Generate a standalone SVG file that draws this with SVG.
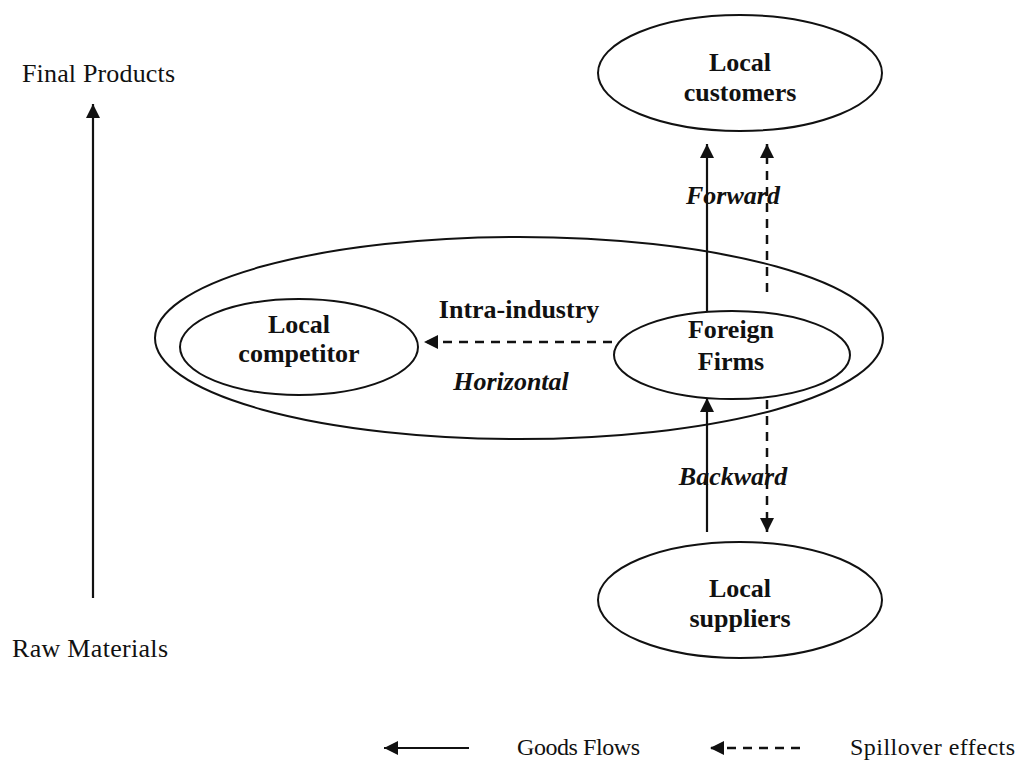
<svg xmlns="http://www.w3.org/2000/svg" width="1023" height="767" viewBox="0 0 1023 767">
<defs>
<style>
.el{fill:none;stroke:#111;stroke-width:2}
.b{font-family:"Liberation Serif",serif;font-weight:bold;font-size:26px;fill:#111;text-anchor:middle}
.bi{font-family:"Liberation Serif",serif;font-weight:bold;font-style:italic;font-size:26px;fill:#111;text-anchor:middle}
.n{font-family:"Liberation Serif",serif;font-size:26px;fill:#111}
.lg{font-family:"Liberation Serif",serif;font-size:24px;fill:#111}
.s{stroke:#111;stroke-width:2.2;fill:none}
.d{stroke:#111;stroke-width:2.5;fill:none;stroke-dasharray:9 7}
</style>
<marker id="ahb" viewBox="0 0 10 10" refX="10" refY="5" markerWidth="16" markerHeight="14" markerUnits="userSpaceOnUse" orient="auto">
<path d="M0,0 L10,5 L0,10 z" fill="#111"/>
</marker>
</defs>
<rect width="1023" height="767" fill="#fff"/>

<g id="outer-group"><ellipse class="el" cx="519" cy="338" rx="364" ry="101"/></g>

<g id="local-customers">
<ellipse class="el" cx="740" cy="73" rx="142" ry="58"/>
<text class="b" x="740" y="71">Local</text>
<text class="b" x="740" y="101">customers</text>
</g>
<g id="local-competitor">
<ellipse class="el" cx="299" cy="347" rx="119" ry="48"/>
<text class="b" x="299" y="333">Local</text>
<text class="b" x="299" y="362">competitor</text>
</g>
<g id="foreign-firms">
<ellipse class="el" cx="732" cy="355" rx="118" ry="44"/>
<text class="b" x="731" y="338">Foreign</text>
<text class="b" x="731" y="370">Firms</text>
</g>
<g id="local-suppliers">
<ellipse class="el" cx="740" cy="600" rx="142" ry="58"/>
<text class="b" x="740" y="597">Local</text>
<text class="b" x="740" y="627">suppliers</text>
</g>

<g id="connectors">
<line class="s" x1="707" y1="311" x2="707" y2="144" marker-end="url(#ahb)"/>
<line class="d" x1="767" y1="292" x2="767" y2="144" marker-end="url(#ahb)"/>
<line class="s" x1="707" y1="532" x2="707" y2="398" marker-end="url(#ahb)"/>
<line class="d" x1="767" y1="400" x2="767" y2="532" marker-end="url(#ahb)"/>
<line class="d" x1="612" y1="342" x2="424" y2="342" marker-end="url(#ahb)"/>
<line class="s" x1="93" y1="598" x2="93" y2="104" marker-end="url(#ahb)"/>
<line class="s" x1="469" y1="748" x2="384" y2="748" marker-end="url(#ahb)"/>
<line class="d" x1="800" y1="748" x2="710" y2="748" stroke-dasharray="8 7" marker-end="url(#ahb)"/>
</g>

<g id="labels">
<text class="bi" x="733" y="204">Forward</text>
<text class="bi" x="733" y="485">Backward</text>
<text class="b" x="519" y="318">Intra-industry</text>
<text class="bi" x="511" y="390">Horizontal</text>
<text class="n" x="22" y="82" textLength="153">Final Products</text>
<text class="n" x="12" y="657" textLength="156">Raw Materials</text>
<text class="lg" x="517" y="755" textLength="123">Goods Flows</text>
<text class="lg" x="850" y="755" textLength="165">Spillover effects</text>
</g>
</svg>
